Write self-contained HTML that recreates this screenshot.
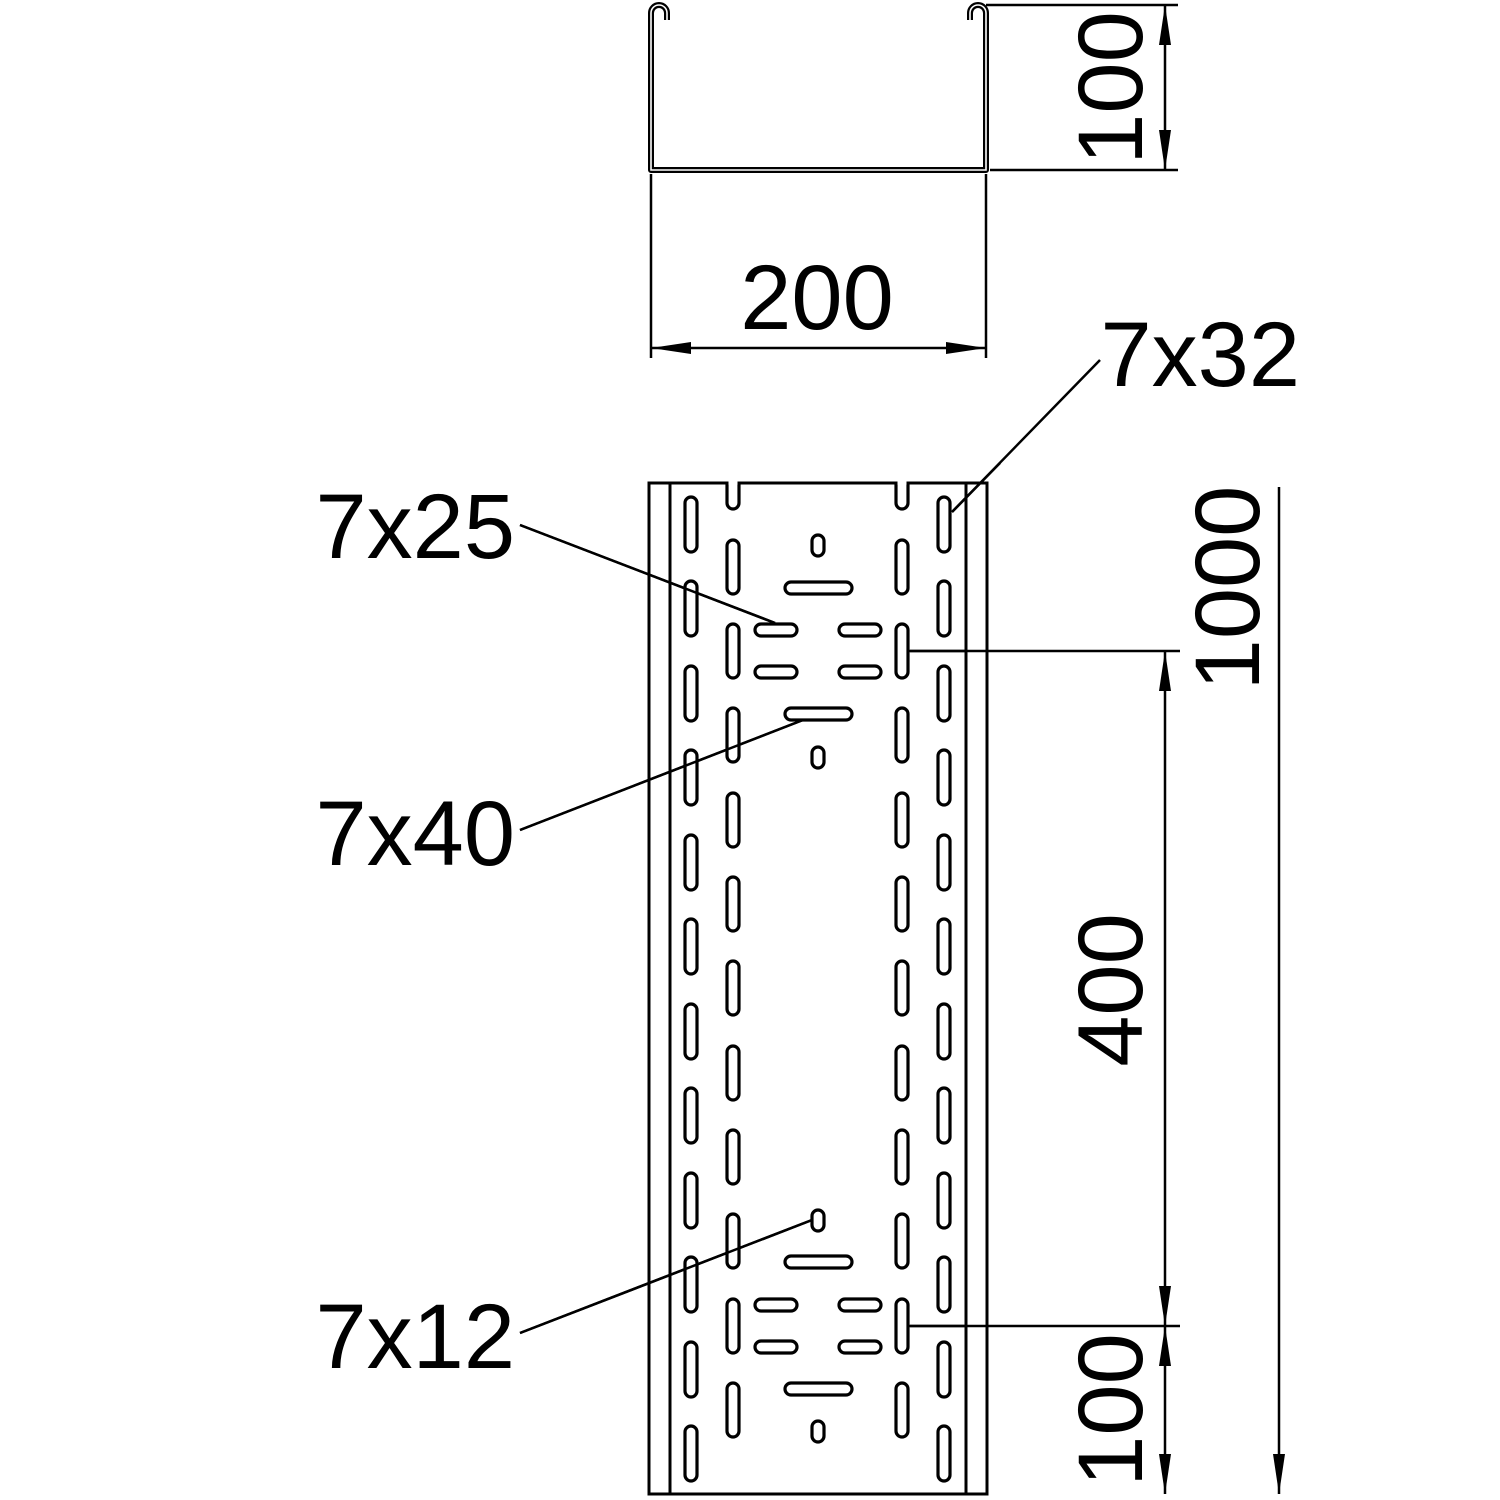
<!DOCTYPE html>
<html><head><meta charset="utf-8"><style>html,body{margin:0;padding:0;background:#fff}svg{display:block}</style></head>
<body>
<svg width="1500" height="1500" viewBox="0 0 1500 1500" xmlns="http://www.w3.org/2000/svg" font-family="Liberation Sans, sans-serif">
<g fill="none" stroke="#000">
<path d="M667,20 L667,13 A8,8 0 0 0 651,13 L651,170 L986,170 L986,13 A8,8 0 0 0 970,13 L970,20" stroke-width="6" stroke-linejoin="round"/>
<path d="M667,20 L667,13 A8,8 0 0 0 651,13 L651,170 L986,170 L986,13 A8,8 0 0 0 970,13 L970,20" stroke="#fff" stroke-width="1.6"/>
<g stroke-width="2.5">
<line x1="986" y1="5" x2="1178" y2="5"/><line x1="990" y1="170" x2="1178" y2="170"/>
<line x1="1165" y1="5" x2="1165" y2="170"/>
<line x1="651" y1="174" x2="651" y2="358"/><line x1="986" y1="174" x2="986" y2="358"/>
<line x1="651" y1="348" x2="986" y2="348"/>
<rect x="649" y="483" width="338" height="1011" stroke-width="3"/>
<line x1="670" y1="483" x2="670" y2="1494" stroke-width="3"/><line x1="966" y1="483" x2="966" y2="1494" stroke-width="3"/>
<line x1="910" y1="651" x2="1180" y2="651"/><line x1="910" y1="1326" x2="1180" y2="1326"/>
<line x1="1165" y1="651" x2="1165" y2="1494"/>
<line x1="1279" y1="487" x2="1279" y2="1494"/>
<line x1="952" y1="512" x2="1100" y2="360"/>
<line x1="520" y1="525" x2="775" y2="623"/>
<line x1="520" y1="830" x2="803" y2="720"/>
<line x1="520" y1="1333" x2="812" y2="1220"/>
</g>
</g>
<g fill="#000">
<path d="M1165,5 l-6,40 h12z"/><path d="M1165,170 l-6,-40 h12z"/>
<path d="M651,348 l40,-6 v12z"/><path d="M986,348 l-40,-6 v12z"/>
<path d="M1165,651 l-6,40 h12z"/><path d="M1165,1326 l-6,-40 h12z"/>
<path d="M1165,1326 l-6,40 h12z"/><path d="M1165,1494 l-6,-40 h12z"/>
<path d="M1279,1494 l-6,-40 h12z"/>
</g>
<g fill="#fff" stroke="#000" stroke-width="3.2">
<path d="M727,483 L727,503 A6,6 0 0 0 739,503 L739,483" />
<path d="M896,483 L896,503 A6,6 0 0 0 908,503 L908,483" />
<line x1="728.5" y1="483" x2="737.5" y2="483" stroke="#fff" stroke-width="3.5"/>
<line x1="897.5" y1="483" x2="906.5" y2="483" stroke="#fff" stroke-width="3.5"/>
<rect x="685" y="497" width="12" height="55" rx="6"/><rect x="938" y="497" width="12" height="55" rx="6"/>
<rect x="685" y="581" width="12" height="55" rx="6"/><rect x="938" y="581" width="12" height="55" rx="6"/>
<rect x="685" y="666" width="12" height="55" rx="6"/><rect x="938" y="666" width="12" height="55" rx="6"/>
<rect x="685" y="750" width="12" height="55" rx="6"/><rect x="938" y="750" width="12" height="55" rx="6"/>
<rect x="685" y="835" width="12" height="55" rx="6"/><rect x="938" y="835" width="12" height="55" rx="6"/>
<rect x="685" y="919" width="12" height="55" rx="6"/><rect x="938" y="919" width="12" height="55" rx="6"/>
<rect x="685" y="1004" width="12" height="55" rx="6"/><rect x="938" y="1004" width="12" height="55" rx="6"/>
<rect x="685" y="1088" width="12" height="55" rx="6"/><rect x="938" y="1088" width="12" height="55" rx="6"/>
<rect x="685" y="1173" width="12" height="55" rx="6"/><rect x="938" y="1173" width="12" height="55" rx="6"/>
<rect x="685" y="1257" width="12" height="55" rx="6"/><rect x="938" y="1257" width="12" height="55" rx="6"/>
<rect x="685" y="1342" width="12" height="55" rx="6"/><rect x="938" y="1342" width="12" height="55" rx="6"/>
<rect x="685" y="1426" width="12" height="55" rx="6"/><rect x="938" y="1426" width="12" height="55" rx="6"/>
<rect x="727" y="540" width="12" height="54" rx="6"/><rect x="896" y="540" width="12" height="54" rx="6"/>
<rect x="727" y="624" width="12" height="54" rx="6"/><rect x="896" y="624" width="12" height="54" rx="6"/>
<rect x="727" y="708" width="12" height="54" rx="6"/><rect x="896" y="708" width="12" height="54" rx="6"/>
<rect x="727" y="793" width="12" height="54" rx="6"/><rect x="896" y="793" width="12" height="54" rx="6"/>
<rect x="727" y="877" width="12" height="54" rx="6"/><rect x="896" y="877" width="12" height="54" rx="6"/>
<rect x="727" y="961" width="12" height="54" rx="6"/><rect x="896" y="961" width="12" height="54" rx="6"/>
<rect x="727" y="1046" width="12" height="54" rx="6"/><rect x="896" y="1046" width="12" height="54" rx="6"/>
<rect x="727" y="1130" width="12" height="54" rx="6"/><rect x="896" y="1130" width="12" height="54" rx="6"/>
<rect x="727" y="1214" width="12" height="54" rx="6"/><rect x="896" y="1214" width="12" height="54" rx="6"/>
<rect x="727" y="1299" width="12" height="54" rx="6"/><rect x="896" y="1299" width="12" height="54" rx="6"/>
<rect x="727" y="1383" width="12" height="54" rx="6"/><rect x="896" y="1383" width="12" height="54" rx="6"/>
<rect x="812" y="535" width="12" height="21" rx="6"/>
<rect x="785" y="582" width="67" height="12" rx="6"/>
<rect x="755" y="624" width="42" height="12" rx="6"/><rect x="839" y="624" width="42" height="12" rx="6"/>
<rect x="755" y="666" width="42" height="12" rx="6"/><rect x="839" y="666" width="42" height="12" rx="6"/>
<rect x="785" y="708" width="67" height="12" rx="6"/>
<rect x="812" y="747" width="12" height="21" rx="6"/>
<rect x="812" y="1210" width="12" height="21" rx="6"/>
<rect x="785" y="1256" width="67" height="12" rx="6"/>
<rect x="755" y="1299" width="42" height="12" rx="6"/><rect x="839" y="1299" width="42" height="12" rx="6"/>
<rect x="755" y="1341" width="42" height="12" rx="6"/><rect x="839" y="1341" width="42" height="12" rx="6"/>
<rect x="785" y="1383" width="67" height="12" rx="6"/>
<rect x="812" y="1421" width="12" height="21" rx="6"/>
</g>
<g stroke="#000" stroke-width="2.5">
<line x1="520" y1="525" x2="775" y2="623"/>
<line x1="520" y1="830" x2="803" y2="720"/>
<line x1="520" y1="1333" x2="812" y2="1220"/>
<line x1="952" y1="512" x2="1000" y2="463"/>
<line x1="908" y1="651" x2="966" y2="651"/>
<line x1="908" y1="1326" x2="966" y2="1326"/>
</g>
<g fill="#000" font-size="92">
<text x="817" y="329" text-anchor="middle">200</text>
<text x="1300" y="386" text-anchor="end">7x32</text>
<text x="515" y="558" text-anchor="end">7x25</text>
<text x="515" y="865" text-anchor="end">7x40</text>
<text x="515" y="1368" text-anchor="end">7x12</text>
<text transform="translate(1142,88) rotate(-90)" text-anchor="middle">100</text>
<text transform="translate(1259,588) rotate(-90)" text-anchor="middle">1000</text>
<text transform="translate(1142,990) rotate(-90)" text-anchor="middle">400</text>
<text transform="translate(1142,1410) rotate(-90)" text-anchor="middle">100</text>
</g>
</svg>
</body></html>
